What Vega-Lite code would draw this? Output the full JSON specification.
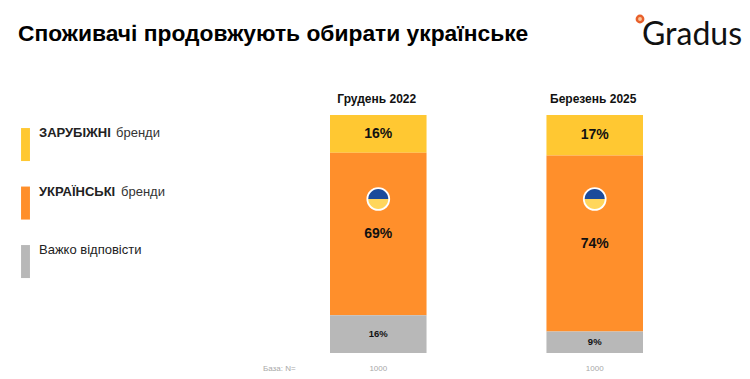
{
"$schema":"https://vega.github.io/schema/vega-lite/v6.json",
"width":750,"height":238,
"autosize":{"type":"none"},
"padding":{"left":0,"top":115,"right":0,"bottom":26},
"background":"white",
"config":{"view":{"stroke":null},"font":"Liberation Sans"},
"title":{"text":"Споживачі продовжують обирати українське","anchor":"start","frame":"group","dx":18,"offset":-35,"fontSize":22.8,"fontWeight":"bold","color":"#000000","font":"Liberation Sans"},
"datasets":{
"shares":[
{"period":"Грудень 2022","brand":"ЗАРУБІЖНІ бренди","share":0.16,"rank":3,"n":1000},
{"period":"Грудень 2022","brand":"УКРАЇНСЬКІ бренди","share":0.69,"rank":2,"n":1000},
{"period":"Грудень 2022","brand":"Важко відповісти","share":0.16,"rank":1,"n":1000},
{"period":"Березень 2025","brand":"ЗАРУБІЖНІ бренди","share":0.17,"rank":3,"n":1000},
{"period":"Березень 2025","brand":"УКРАЇНСЬКІ бренди","share":0.74,"rank":2,"n":1000},
{"period":"Березень 2025","brand":"Важко відповісти","share":0.09,"rank":1,"n":1000}
],
"bases":[{"period":"Грудень 2022","n":1000},{"period":"Березень 2025","n":1000}],
"notes":[
{"col":"note","row":"foreign","text":"бренди","kind":"note"},
{"col":"note","row":"ukrainian","text":"бренди","kind":"note"},
{"col":"base","row":"base","text":"База: N=","kind":"base"}
]
},
"resolve":{"scale":{"x":"independent","y":"independent"}},
"layer":[
{
"layer":[
{"data":{"name":"shares"},
"mark":{"type":"bar"},
"encoding":{
"x":{"field":"period","type":"nominal","sort":null,"title":null,
"scale":{"domain":["Грудень 2022","Березень 2025"],"range":[330,643],"paddingInner":0.554,"paddingOuter":0},
"axis":{"orient":"top","domain":false,"ticks":false,"labelAngle":0,"labelFontSize":12,"labelFontWeight":"bold","labelColor":"#111111","labelPadding":10,"labelOffset":-1.5,"title":null,"grid":false}},
"y":{"field":"share","type":"quantitative","stack":"normalize","scale":{"domain":[0,1],"nice":false},"axis":null},
"order":{"field":"rank"},
"color":{"field":"brand","type":"nominal",
"scale":{"domain":["ЗАРУБІЖНІ бренди","УКРАЇНСЬКІ бренди","Важко відповісти"],"range":["#FFC832","#FF8F2B","#B8B8B8"]},
"legend":{"orient":"none","legendX":9,"legendY":1.5,"title":null,"symbolType":"M-.27,-.3H.27V1.7H-.27Z","symbolSize":1089,"symbolStrokeWidth":0,"symbolOpacity":1,"rowPadding":13.5,"labelOffset":-3,"labelFontSize":13,"labelColor":"#222222","labelLimit":200,
"labelExpr":"datum.label=='Важко відповісти'?datum.label:split(datum.label,' ')[0]",
"labelFontWeight":{"expr":"datum.label=='Важко відповісти'?'normal':'bold'"}}}
}},
{"data":{"name":"shares"},
"mark":{"type":"text","font":"Liberation Sans","fontWeight":"bold","color":"#111111"},
"encoding":{
"x":{"field":"period","type":"nominal"},
"y":{"field":"share","type":"quantitative","stack":"normalize","bandPosition":0.5},
"order":{"field":"rank"},
"detail":{"field":"brand"},
"text":{"field":"share","type":"quantitative","format":".0%"},
"size":{"condition":{"test":"datum.brand==='Важко відповісти'","value":9.5},"value":14}
}},
{"data":{"name":"bases"},
"mark":{"type":"point","filled":true,"opacity":1,"color":"#FFFFFF","shape":"circle","size":560},
"encoding":{"x":{"field":"period","type":"nominal"},"y":{"datum":0.647,"type":"quantitative"}}},
{"data":{"name":"bases"},
"mark":{"type":"point","filled":true,"opacity":1,"color":"#1B4B9B","shape":"M-1,0A1,1 0 0 1 1,0Z","size":400},
"encoding":{"x":{"field":"period","type":"nominal"},"y":{"datum":0.647,"type":"quantitative"}}},
{"data":{"name":"bases"},
"mark":{"type":"point","filled":true,"opacity":1,"color":"#FFD65C","shape":"M-1,0A1,1 0 0 0 1,0Z","size":400},
"encoding":{"x":{"field":"period","type":"nominal"},"y":{"datum":0.647,"type":"quantitative"}}},
{"data":{"name":"bases"},
"mark":{"type":"text","font":"Liberation Sans","fontSize":8,"color":"#A8A8A8","dy":16},
"encoding":{"x":{"field":"period","type":"nominal"},"y":{"datum":0,"type":"quantitative"},"text":{"field":"n","type":"quantitative"}}}
]
},
{
"layer":[
{"data":{"name":"notes"},"transform":[{"filter":"datum.row!=='ukrainian'"}],
"mark":{"type":"text","font":"Liberation Sans","align":"left","dx":-1},
"encoding":{
"x":{"field":"col","type":"nominal","scale":{"type":"point","domain":["note","base"],"range":[117,264],"padding":0},"axis":null},
"y":{"field":"row","type":"nominal","scale":{"type":"point","domain":["foreign","ukrainian","hard","gap","base"],"range":[17.5,254],"padding":0},"axis":null},
"text":{"field":"text"},
"size":{"condition":{"test":"datum.kind==='base'","value":8},"value":13},
"color":{"condition":{"test":"datum.kind==='base'","value":"#A8A8A8"},"value":"#333333"}
}},
{"data":{"name":"notes"},"transform":[{"filter":"datum.row==='ukrainian'"}],
"mark":{"type":"text","font":"Liberation Sans","align":"left","dx":4,"fontSize":13,"color":"#333333"},
"encoding":{
"x":{"field":"col","type":"nominal"},
"y":{"field":"row","type":"nominal"},
"text":{"field":"text"}
}}
]
},
{
"layer":[
{"data":{"values":[{"item":"Gradus"}]},
"mark":{"type":"text","font":"Lato","align":"center","fontSize":32,"color":"#111111"},
"encoding":{
"x":{"field":"item","type":"nominal","scale":{"type":"point","domain":["dot","Gradus"],"range":[640,692],"padding":0},"axis":null},
"y":{"field":"item","type":"nominal","scale":{"type":"point","domain":["dot","Gradus"],"range":[-96,-80],"padding":0},"axis":null},
"text":{"field":"item"}
}},
{"data":{"values":[{"item":"dot"}]},
"mark":{"type":"point","filled":false,"shape":"circle","size":40,"stroke":"#E8602B","strokeWidth":2.5,"fill":"#F9C79B","fillOpacity":1,"opacity":1},
"encoding":{
"x":{"field":"item","type":"nominal"},
"y":{"field":"item","type":"nominal"}
}}
]
}
]
}
